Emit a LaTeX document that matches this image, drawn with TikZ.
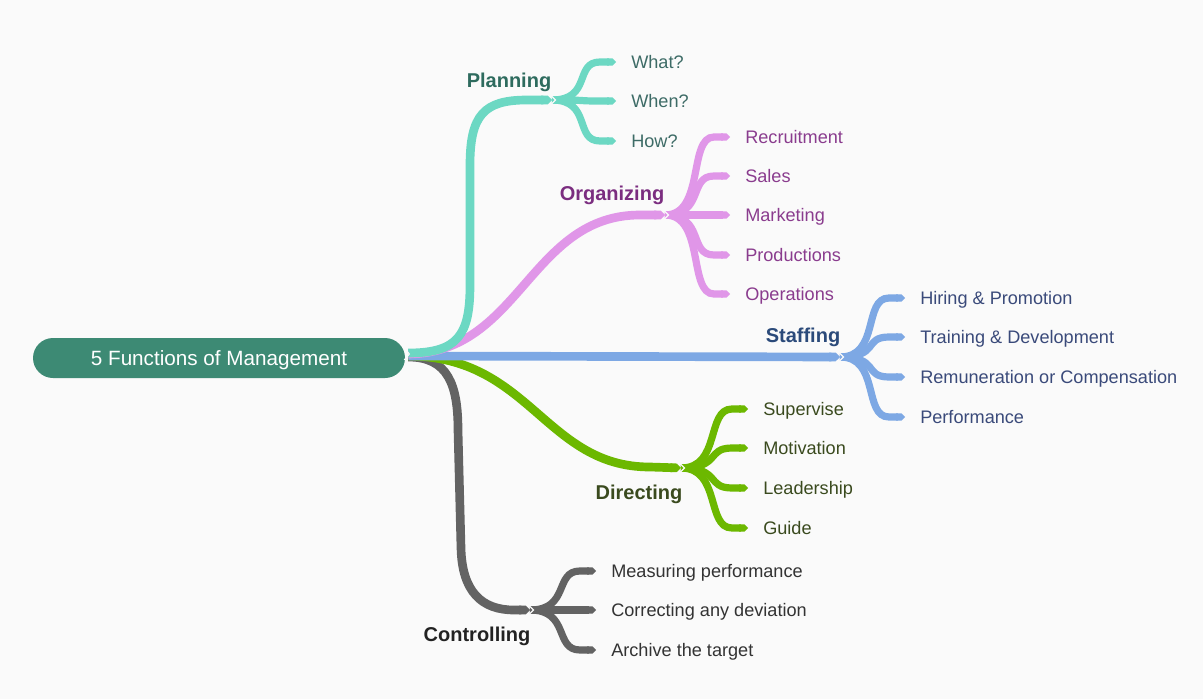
\documentclass[tikz,border=0pt]{standalone}
\usepackage{fontspec}
\setmainfont{Liberation Sans}
\usetikzlibrary{arrows.meta,calc}
\definecolor{bgc}{HTML}{FAFAFA}
\definecolor{rootc}{HTML}{3D8A74}
\definecolor{plc}{HTML}{6CD8C3}
\definecolor{pllab}{HTML}{2E6B5E}
\definecolor{pltxt}{HTML}{3D6B66}
\definecolor{orc}{HTML}{E096E8}
\definecolor{orlab}{HTML}{7B2D80}
\definecolor{ortxt}{HTML}{8A3C8E}
\definecolor{stc}{HTML}{7DA8E4}
\definecolor{stlab}{HTML}{2B4A7A}
\definecolor{sttxt}{HTML}{3A4A7A}
\definecolor{dic}{HTML}{6CB800}
\definecolor{dilab}{HTML}{3A4A1E}
\definecolor{ditxt}{HTML}{3A4A1E}
\definecolor{coc}{HTML}{636363}
\definecolor{colab}{HTML}{222222}
\definecolor{cotxt}{HTML}{333333}
\begin{document}
\begin{tikzpicture}[x=0.75pt,y=-0.75pt,
  mainline/.style={line width=6.5pt,-{Triangle Cap}},
  leafline/.style={line width=5.4pt,-{Triangle Cap}},
  leaf/.style={anchor=west,inner sep=0pt,text height=9.8pt,text depth=0pt,font=\fontsize{13.6}{16}\selectfont},
  lab/.style={inner sep=0pt,text height=10.8pt,text depth=0pt,font=\bfseries\fontsize{15}{18}\selectfont},
  notch/.style={draw=bgc,line width=0.9pt}]
\fill[bgc] (0,0) rectangle (1203,699);
\useasboundingbox (0,0) rectangle (1203,699);

% root
\node[fill=rootc,rounded corners=15pt,minimum width=279pt,minimum height=30pt,inner sep=0pt,
      text=white,text height=11pt,text depth=0pt,font=\fontsize{15.5}{18}\selectfont] (root) at (219,358) {5 Functions of Management};

% junctions
\coordinate (pj) at (557,100);
\coordinate (oj) at (670,215);
\coordinate (sj) at (845,357);
\coordinate (dj) at (686,468);
\coordinate (cj) at (535,610);

% labels
\node[lab,text=pllab] (plab) at (509,80) {Planning};
\node[lab,text=orlab] (olab) at (612,193) {Organizing};
\node[lab,text=stlab] (slab) at (803,335) {Staffing};
\node[lab,text=dilab] (dlab) at (639,492) {Directing};
\node[lab,text=colab] (clab) at (477,634) {Controlling};

% leaves
\node[leaf,text=pltxt] (p1) at (631,62) {What?};
\node[leaf,text=pltxt] (p2) at (631,101) {When?};
\node[leaf,text=pltxt] (p3) at (631,141) {How?};
\node[leaf,text=ortxt] (o1) at (745,137) {Recruitment};
\node[leaf,text=ortxt] (o2) at (745,176) {Sales};
\node[leaf,text=ortxt] (o3) at (745,215) {Marketing};
\node[leaf,text=ortxt] (o4) at (745,255) {Productions};
\node[leaf,text=ortxt] (o5) at (745,294) {Operations};
\node[leaf,text=sttxt] (s1) at (920,298) {Hiring \& Promotion};
\node[leaf,text=sttxt] (s2) at (920,337) {Training \& Development};
\node[leaf,text=sttxt] (s3) at (920,377) {Remuneration or Compensation};
\node[leaf,text=sttxt] (s4) at (920,417) {Performance};
\node[leaf,text=ditxt] (d1) at (763,409) {Supervise};
\node[leaf,text=ditxt] (d2) at (763,448) {Motivation};
\node[leaf,text=ditxt] (d3) at (763,488) {Leadership};
\node[leaf,text=ditxt] (d4) at (763,528) {Guide};
\node[leaf,text=cotxt] (c1) at (611,571) {Measuring performance};
\node[leaf,text=cotxt] (c2) at (611,610) {Correcting any deviation};
\node[leaf,text=cotxt] (c3) at (611,650) {Archive the target};

% sub-branches
\foreach \j/\l/\c in {pj/p1/plc,pj/p2/plc,pj/p3/plc,
                     oj/o1/orc,oj/o2/orc,oj/o3/orc,oj/o4/orc,oj/o5/orc,
                     sj/s1/stc,sj/s2/stc,sj/s3/stc,sj/s4/stc,
                     dj/d1/dic,dj/d2/dic,dj/d3/dic,dj/d4/dic,
                     cj/c1/coc,cj/c2/coc,cj/c3/coc}{
  \draw[leafline,draw=\c] ($(\j)+(-5,0)$) .. controls +(40,0) and +(-26,0) .. ($(\l.west)+(-31,0)$) -- ($(\l.west)+(-15,0)$);
}

% main branches
\draw[mainline,draw=coc] ($(root.east)+(3,-1)$) .. controls (448,357) and (458,385) .. (458,430) -- (461,548)
   .. controls (462,592) and (482,610) .. (514,610) -- ($(cj)+(-5,0)$);
\draw[mainline,draw=dic] ($(root.east)+(3,-2)$) .. controls (530,356) and (545,467) .. (650,467) -- ($(dj)+(-5,0)$);
\draw[mainline,draw=stc] ($(root.east)+(3,-2)$) -- ($(sj)+(-5,0)$);
\draw[mainline,draw=orc] ($(root.east)+(3,-4)$) .. controls (520,353) and (530,215) .. (640,215) -- ($(oj)+(-5,0)$);
\draw[mainline,draw=plc] ($(root.east)+(3,-5)$) .. controls (458,353) and (470,335) .. (470,285) -- (470,165)
   .. controls (470,115) and (484,100) .. (527,100) -- ($(pj)+(-5,0)$);

% notches at junctions
\foreach \j in {pj,oj,sj,dj,cj}{
  \draw[notch] ($(\j)+(-6.5,-5)$) -- ($(\j)+(-1.5,0)$) -- ($(\j)+(-6.5,5)$);
}
\draw[notch] ($(root.east)+(-1,-10)$) -- ($(root.east)+(4,-4)$) -- ($(root.east)+(-1,2)$);
\end{tikzpicture}
\end{document}
